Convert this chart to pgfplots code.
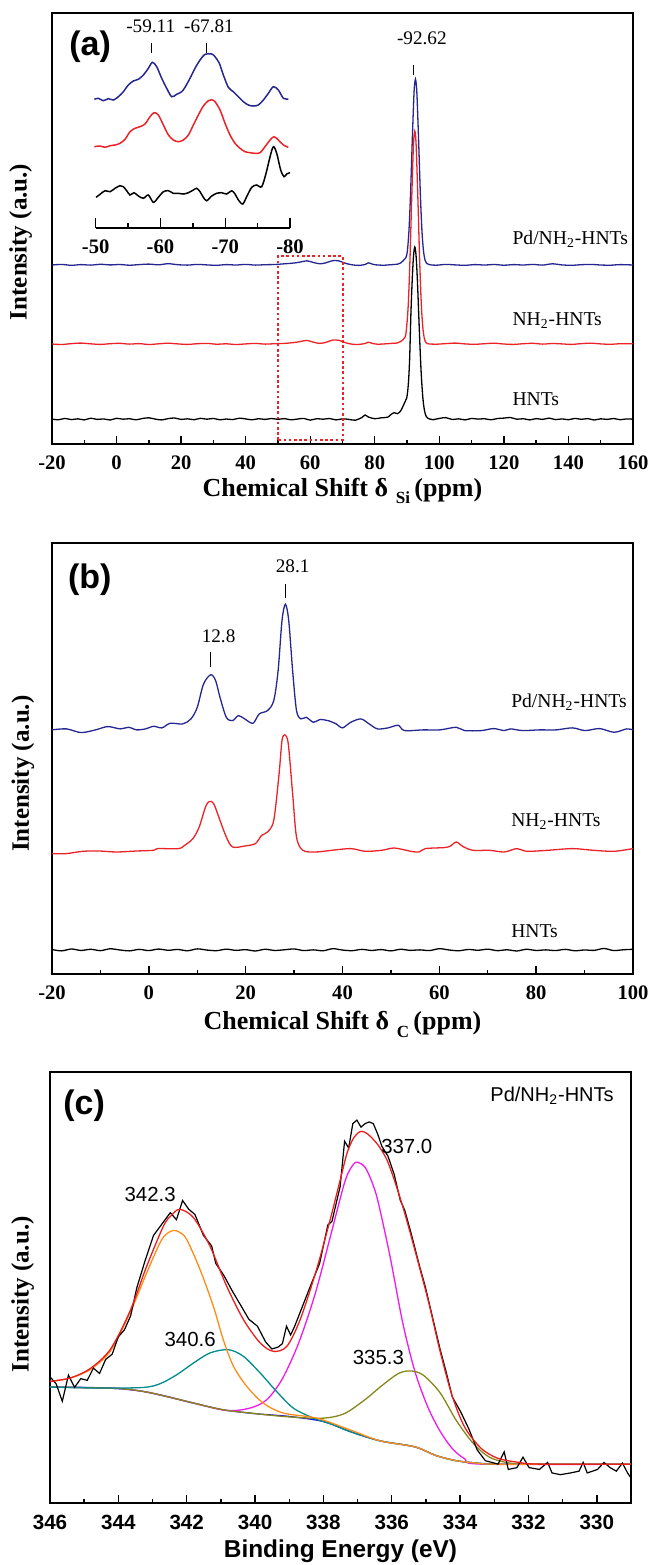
\documentclass[border=0pt]{standalone}
\usepackage{fontspec}
\setmainfont{Liberation Serif}
\newfontfamily\arial{Liberation Sans}
\usepackage{pgfplots}
\pgfplotsset{compat=1.18}

\definecolor{nblue}{RGB}{38,38,145}
\definecolor{nred}{RGB}{235,35,40}
\definecolor{fred}{RGB}{235,30,30}
\definecolor{forange}{RGB}{255,140,25}
\definecolor{fteal}{RGB}{0,140,140}
\definecolor{fmag}{RGB}{240,25,240}
\definecolor{folive}{RGB}{135,135,25}
\definecolor{fblue}{RGB}{20,20,230}

\pgfplotsset{
  panel/.style={
    scale only axis, width=290.5pt, height=215.5pt,
    anchor=south west, clip=false,
    axis line style={line width=0.9pt},
    tick style={black, line width=0.7pt},
    major tick length=4pt, minor tick length=1.8pt,
    tick align=inside, xtick pos=left, ytick=\empty,
    minor x tick num=1,
    xticklabel style={font=\bfseries\fontsize{10.3}{12}\selectfont, yshift=-2.6pt},
    every axis plot/.append style={line width=0.65pt, mark=none},
  },
  sm/.style={smooth, tension=0.5},
}
\tikzset{
  ylab/.style={rotate=90, font=\bfseries\fontsize{12.5}{14}\selectfont},
  xlab/.style={font=\bfseries\fontsize{13}{15}\selectfont},
  samp/.style={font=\fontsize{9.8}{11}\selectfont, anchor=base west},
  pk/.style={font=\fontsize{9.6}{11}\selectfont},
}

\begin{document}
\begin{tikzpicture}
\path[use as bounding box] (0,0) rectangle (325pt,-782.5pt);

% ---------------- (a) 29Si ----------------
\begin{axis}[panel, at={(26pt,-222pt)},
  xmin=-20, xmax=160, ymin=0, ymax=431,
  xtick={-20,0,...,160}, xticklabels={-20,0,20,40,60,80,100,120,140,160}]
\addplot[nblue, sm] coordinates {
(-20,179) (-17,179.6) (-14,178.7) (-11,179.4) (-8,178.9) (-5,179.7) (-2,179.1) (1,179.5) (4,178.8) (7,179.4)
(10,179.9) (13,179.2) (16,180.3) (19,179.3) (22,178.9) (25,179.6) (28,179.1) (31,178.7) (34,179.4) (37,179)
(40,179.6) (43,178.9) (46,179.3) (49,179.5) (52,180.2) (55,181) (57,182) (59,183.2) (61,181.5) (63,180.2)
(65,181.3) (67,183.4) (69,183) (71,180.6) (73,179.2) (75,178.6) (77,179.5) (78,181.2) (79.5,179.6) (81,179)
(83,178.8) (85,179.3) (87,179.8) (88,181) (89,184) (89.6,186) (90.1,193) (90.6,214) (91.1,252) (91.6,302)
(92.1,347) (92.35,360) (92.6,365) (92.85,360) (93.1,347) (93.6,302) (94.1,252) (94.6,214) (95.1,193) (95.6,183.5)
(96.1,180.5) (97,179.3) (99,178.8) (102,179.6) (105,179.1) (108,178.7) (111,179.4) (114,179) (117,179.5) (120,178.8)
(123,179.4) (126,179) (129,179.6) (132,178.9) (135,180.2) (138,179.1) (141,178.7) (144,179.3) (147,179.6) (150,179)
(153,178.8) (156,179.4) (160,179)};
\addplot[nred, sm] coordinates {
(-20,100) (-17,99.5) (-14,100.4) (-11,100.9) (-8,100.2) (-5,99.6) (-2,100.3) (1,100.7) (4,99.9) (7,100.4)
(10,99.5) (13,100.2) (16,100.8) (19,100.1) (22,99.6) (25,100.3) (28,100.6) (31,99.8) (34,100.2) (37,99.5)
(40,100.1) (43,100.6) (46,99.9) (49,100.3) (52,100.6) (55,101.5) (57,102.5) (59,103.6) (61,101.8) (63,100.6)
(65,101.8) (67,104) (69,103.6) (71,101.2) (73,99.8) (75,99.6) (77,100.5) (78,101.8) (79.5,100.4) (81,99.8)
(83,100.1) (85,100.6) (87,101) (88,102.5) (89.4,107) (89.9,118) (90.4,141) (90.9,184) (91.4,241) (91.9,292)
(92.15,307.7) (92.4,313) (92.65,307.7) (92.9,292) (93.4,241) (93.9,184) (94.4,141) (94.9,116) (95.4,105) (95.9,101.3)
(96.5,100.2) (99,99.8) (102,100.4) (105,100.9) (108,100.1) (111,99.7) (114,100.3) (117,100.8) (120,100) (123,99.6)
(126,100.3) (129,100.7) (132,99.9) (135,100.5) (138,100.1) (141,99.6) (144,100.4) (147,100.8) (150,100.1) (153,99.7)
(156,100.3) (160,100.2)};
\addplot[black, sm] coordinates {
(-20,25) (-18,24.2) (-16,25.6) (-14,24.4) (-12,25.2) (-10,24.1) (-8,25.8) (-6,24.6) (-4,25.1) (-2,24)
(0,25.7) (2,24.8) (4,25.3) (6,24.2) (8,25.5) (10,26.2) (12,24.9) (14,24.1) (16,25.4) (18,26)
(20,24.6) (22,25.2) (24,24.3) (26,25.7) (28,24.8) (30,25.6) (32,24.2) (34,25) (36,24.4) (38,25.8)
(40,25.1) (42,24.2) (44,25.3) (46,24.6) (48,25.5) (50,24.7) (52,25.4) (54,24.2) (56,24.9) (58,25.6)
(60,23.9) (62,25.3) (64,24.8) (66,25.5) (68,24.1) (70,25.2) (72,24.6) (74,23.8) (76,26.5) (77,29)
(78,27) (80,25.3) (82,26.2) (84,26.8) (85,29.5) (86,31.3) (87,30.4) (88,33) (89.2,41) (89.9,46)
(90.4,60) (90.8,85) (91.2,131) (91.6,164) (92.0,188) (92.4,197) (92.8,188) (93.2,164) (93.6,131) (94.0,98)
(94.4,70) (94.9,46) (95.4,33.4) (95.9,27.8) (96.4,25.9) (97,25) (98,24.3) (100,25.6) (102,26.4) (104,24.5)
(106,25.2) (108,24.1) (110,25.6) (112,24.9) (114,25.3) (116,24.2) (118,25.5) (120,25.9) (122,26.5) (124,24.8)
(126,25.3) (128,24.1) (130,25.4) (132,24.6) (134,25.9) (136,24.4) (138,25.1) (140,24.3) (142,25.6) (144,24.7)
(146,25.4) (148,24) (150,25.2) (152,24.6) (154,25.5) (156,24.3) (158,25.1) (160,24.8)};
\draw[nred, line width=1pt, dash pattern=on 1.3pt off 1.3pt] (axis cs:50,4) rectangle (axis cs:70,188);
\draw[line width=0.6pt] (axis cs:92.05,369) -- (axis cs:92.05,379);
\node[pk] at (axis cs:94.6,406) {-92.62};
\node[samp] at (axis cs:120.5,199.7) {Pd/NH\textsubscript{2}-HNTs};
\node[samp] at (axis cs:120.5,118.5) {NH\textsubscript{2}-HNTs};
\node[samp] at (axis cs:120.5,38.5) {HNTs};
\node[font=\arial\bfseries\fontsize{17}{20}\selectfont] at (axis cs:-8.2,397) {(a)};
\node[ylab] at (rel axis cs:-0.054,0.469) {Intensity (a.u.)};
\node[xlab] at (rel axis cs:0.5,-0.108) {Chemical Shift δ\hspace{0.3em}\raisebox{-0.6ex}{\fontsize{8.5}{9}\selectfont Si}\,(ppm)};
\end{axis}

% inset of (a)
\begin{axis}[at={(47.85pt,-114pt)}, anchor=south west, scale only axis,
  width=97.15pt, height=100pt, xmin=50, xmax=80, ymin=0, ymax=200,
  clip=false, axis x line=bottom, axis y line=none,
  axis line style={-, line width=0.8pt},
  tick style={black, line width=0.7pt}, tick align=inside,
  major tick length=5pt, minor tick length=2.5pt,
  xtick={50,60,70,80}, xticklabels={-50,-60,-70,-80}, minor xtick={55,65,75},
  xticklabel style={font=\bfseries\fontsize{10.3}{12}\selectfont, yshift=-2.6pt},
  every axis plot/.append style={line width=0.75pt, mark=none, smooth, tension=0.5}]
\addplot[nblue] coordinates {
(49.79,128.7) (50.41,129.7) (51.18,127.3) (51.95,129.3) (52.73,128) (53.50,131.3) (54.27,136.3) (55.04,143)
(55.81,147) (56.59,148.7) (57.36,153) (58.13,159.7) (58.75,165.7) (59.42,161.3) (60.19,149.7) (60.96,139.7)
(61.73,131.3) (62.50,133.7) (63.28,136.3) (63.79,140.7) (64.56,149.7) (65.33,159.7) (66.11,168) (66.88,173.7)
(67.91,174) (68.42,171.3) (69.09,164.7) (69.71,153) (70.48,140.7) (71.25,136.3) (72.03,131.3) (72.80,126.3)
(73.57,123) (74.34,122) (75.11,123) (75.89,128) (76.66,134.7) (77.43,141.3) (78.20,138) (78.98,129.7) (79.75,129)};
\addplot[nred] coordinates {
(49.79,81.3) (50.67,82) (51.44,80.7) (52.21,82.3) (52.98,83) (53.75,84.7) (54.53,88.7) (55.30,96.3)
(56.07,99.7) (56.84,101.3) (57.61,104) (58.39,111.3) (59.00,115.3) (59.67,113) (60.45,103) (61.22,93)
(61.99,88) (62.76,86.3) (63.53,88) (64.31,93) (65.08,103) (65.85,113) (66.62,122) (67.39,127.3)
(67.91,128.3) (68.42,126.3) (69.20,118) (69.97,104.7) (70.74,93) (71.51,84.7) (72.28,79.7) (73.06,76.3)
(73.83,75.3) (74.60,74.7) (75.37,75.3) (76.14,81.3) (76.92,88) (77.53,91.3) (78.20,88) (78.98,83) (79.75,80.7)};
\addplot[black] coordinates {
(50.05,30.7) (50.67,33.7) (51.44,37.3) (52.21,36.3) (52.98,39.7) (53.75,42.3) (54.27,41.3) (54.78,37.3)
(55.30,33) (55.92,35.3) (56.59,32) (57.36,29.7) (58.13,33) (58.90,25.7) (59.67,30.7) (60.45,36.3)
(61.22,37.3) (61.99,34.7) (62.76,34.7) (63.53,34) (64.31,35.3) (65.08,38) (65.59,39.7) (66.11,36.3)
(66.62,30.7) (67.14,27.3) (67.91,32) (68.68,34.7) (69.45,35.3) (70.23,34) (71.00,37.3) (71.51,34)
(72.03,28) (72.70,24) (73.31,31.3) (74.09,40.7) (74.86,43) (75.63,41.3) (76.30,54.7) (76.92,71.3)
(77.43,81.3) (77.95,74.7) (78.56,58) (79.08,51.3) (79.49,54) (80.00,55.3)};
\draw[line width=0.6pt] (axis cs:58.64,175) -- (axis cs:58.64,185);
\draw[line width=0.6pt] (axis cs:67.14,175) -- (axis cs:67.14,185);
\node[pk] at (axis cs:58.5,201.3) {-59.11};
\node[pk] at (axis cs:67.5,201.3) {-67.81};
\end{axis}

% ---------------- (b) 13C ----------------
\begin{axis}[panel, at={(26pt,-487pt)},
  xmin=-20, xmax=100, ymin=0, ymax=432,
  xtick={-20,0,...,100}, xticklabels={-20,0,20,40,60,80,100}]
\addplot[nblue, sm] coordinates {
(-20,244.7) (-17.0,245.7) (-14.0,242) (-11.0,244.7) (-8.5,248) (-5.9,245.7) (-4.2,247.3) (-2.5,244.7) (-0.7,245.7) (1.0,248.3)
(2.7,246.7) (4.4,251.3) (7.0,250.7) (8.7,255.7) (10.0,267.3) (11.3,290.7) (12.8,300) (13.8,294) (14.7,277.3) (16.0,257.3)
(17.3,254) (18.5,259) (19.8,255.7) (21.5,251.3) (22.8,260.7) (24.5,264) (25.8,274) (26.7,304) (27.5,354) (28.2,370.7)
(28.9,354) (29.7,304) (30.5,264) (31.4,255.7) (32.5,257.3) (34.0,252.3) (35.3,255) (37.0,254) (38.7,250.7) (40.0,246.7)
(41.7,252.3) (43.8,255.7) (45.5,250.7) (47.2,245.7) (49.4,246.7) (51.5,249.3) (52.8,244) (56.7,244.7) (60.1,244.7) (63.5,247.3)
(65.2,244) (68.7,244) (71.2,246) (73.4,244) (74.7,245.7) (77.2,244) (80.7,244.7) (84.1,244.7) (87.5,246.7) (90.1,244)
(93.1,246) (96.1,242.3) (98.7,245.7) (100,244.7)};
\addplot[nred, sm] coordinates {
(-20,120.7) (-17.0,120.7) (-13.6,123) (-10.2,123.3) (-6.7,122.3) (-2.5,123.3) (1.0,124) (1.8,125.7) (6.1,125.7) (7.4,129)
(9.1,135.7) (10.4,147.3) (11.7,167.3) (12.5,173) (13.4,170.7) (14.7,154) (16.0,137.3) (17.3,127.3) (19.8,128.3) (22.0,130.7)
(23.3,139) (24.5,142.3) (25.8,154) (26.9,200.7) (27.5,234) (28.1,239.7) (28.8,230.7) (29.7,180.7) (30.5,137.3) (31.8,124)
(34.4,122.3) (37.8,124) (41.7,125.7) (44.7,123) (48.1,124) (50.7,126.3) (54.1,123) (55.8,122.3) (57.1,125.7) (60.9,126.7)
(62.2,128) (63.5,132.3) (64.8,128) (66.9,124) (70.4,124) (73.4,122.3) (76.0,125.7) (78.1,123) (82.4,124) (87.5,125.7)
(91.8,124) (96.1,123) (100,125.7)};
\addplot[black, sm] coordinates {
(-20,24.5) (-18,23.2) (-16,25.1) (-14,23.6) (-12,24.8) (-10,23.4) (-8,25.3) (-6,24.1) (-4,23.2) (-2,24.7)
(0,23.5) (2,25) (4,23.8) (6,24.6) (8,23.3) (10,25.2) (12,24) (14,23.4) (16,24.9) (18,23.7)
(20,24.4) (22,23.1) (24,24.8) (26,23.6) (28,24.3) (30,25.1) (32,23.5) (34,24.2) (36,23.3) (38,25.4)
(40,24) (42,23.4) (44,24.7) (46,23.6) (48,24.5) (50,23.2) (52,24.8) (54,23.7) (56,24.2) (58,23.5)
(60,25.4) (62,24.1) (64,23.3) (66,24.6) (68,23.8) (70,24.9) (72,23.4) (74,24.3) (76,23.1) (78,24.8)
(80,23.6) (82,24.2) (84,23.5) (86,24.7) (88,23.3) (90,24.1) (92,23.7) (94,25.6) (96,23.5) (98,24.3) (100,24.8)};
\draw[line width=0.6pt] (axis cs:28.2,377.3) -- (axis cs:28.2,390.7);
\draw[line width=0.6pt] (axis cs:12.8,307.3) -- (axis cs:12.8,322.3);
\node[pk] at (axis cs:29.7,409) {28.1};
\node[pk] at (axis cs:14.4,339) {12.8};
\node[samp] at (axis cs:73.4,267.5) {Pd/NH\textsubscript{2}-HNTs};
\node[samp] at (axis cs:73.4,147.5) {NH\textsubscript{2}-HNTs};
\node[samp] at (axis cs:73.4,37) {HNTs};
\node[font=\arial\bfseries\fontsize{17}{20}\selectfont] at (axis cs:-12.2,395.7) {(b)};
\node[ylab] at (rel axis cs:-0.050,0.465) {Intensity (a.u.)};
\node[xlab] at (rel axis cs:0.5,-0.117) {Chemical Shift δ\hspace{0.3em}\raisebox{-0.6ex}{\fontsize{8.5}{9}\selectfont C}\,(ppm)};
\end{axis}

% ---------------- (c) XPS Pd 3d ----------------
\begin{axis}[panel, at={(25pt,-751.5pt)},
  x dir=reverse, xmin=329, xmax=346, ymin=0, ymax=430,
  xtick={330,332,...,346},
  xticklabel style={font=\arial\bfseries\fontsize{10.3}{12}\selectfont},
  xticklabels={330,332,334,336,338,340,342,344,346}]
\addplot[fblue, sm] coordinates {
(346,115.7) (345,115.3) (344.05,114.3) (343.27,111.3) (342.59,106.3) (341.8,99.7) (340.93,93) (339.95,89)
(338.98,86.3) (338.0,81.3) (337.22,71.3) (336.34,62) (335.32,56) (334.71,47.4) (334.11,42.2) (333.5,39.8)
(332.9,38.8) (332,38.7) (329,38.7)};
\addplot[fmag, sm] coordinates {
(346,115.7) (344.05,114.3) (343.27,111.3) (342.59,106.3) (341.8,99.7) (340.83,92.3) (340.15,94.7) (339.66,103)
(339.2,124) (338.72,160) (338.23,210) (337.75,272) (337.41,316.3) (337.25,331) (337.07,339.7) (336.93,339)
(336.78,335) (336.6,322) (336.41,302) (336.05,246) (335.68,180) (335.32,131) (334.95,96.2) (334.59,71.9)
(334.23,54.4) (333.86,44) (333.38,38.8) (329,38.7)};
\addplot[folive, sm] coordinates {
(346,115.7) (344.05,114.3) (343.27,111.3) (342.59,106.3) (341.8,99.7) (340.93,93) (339.95,89) (338.96,85.8)
(337.99,84.7) (337.38,89.3) (336.78,103.2) (336.29,117.1) (335.8,129.3) (335.44,131.8) (335.08,127.6) (334.59,110.2)
(334.11,82.3) (333.62,59.7) (333.14,45.7) (332.53,39.8) (331.8,38.7) (329,38.7)};
\addplot[fteal, sm] coordinates {
(346,115.7) (344.54,114.7) (343.27,115.3) (342.78,119) (342.29,128) (341.8,139.7) (341.32,149.7) (340.78,153)
(340.34,146.3) (339.85,129.7) (339.37,111.3) (338.88,94.7) (338.29,84.7) (337.71,78) (337.22,71.3) (336.34,62)
(335.32,56) (334.71,47.4) (334.11,42.2) (333.5,39.8) (332.9,38.8) (329,38.7)};
\addplot[forange, sm] coordinates {
(346,121.3) (345.41,124.7) (344.83,133) (344.24,151.3) (343.66,189.7) (343.17,229.7) (342.78,259.7) (342.59,268.5)
(342.39,272) (342.2,270) (342.0,263) (341.61,233) (341.22,196.3) (340.93,163) (340.63,136.3) (340.24,116.3)
(339.76,99.7) (339.17,89.7) (338.2,84.7) (337.22,73) (336.34,62) (335.32,56) (334.71,47.4) (334.11,42.2)
(333.5,39.8) (332.9,38.8) (329,38.7)};
\addplot[black, line width=0.6pt] coordinates {
(346.0,125.9) (345.82,118.9) (345.64,101.5) (345.46,127.6) (345.28,115.4) (345.10,124.1) (344.91,122.4) (344.73,134.6)
(344.55,129.3) (344.37,143.3) (344.18,148.5) (344.00,165.9) (343.82,172.9) (343.64,186.8) (343.46,214.7) (343.21,242.6)
(342.97,267) (342.67,280.9) (342.48,289.6) (342.30,282.7) (342.12,301.8) (341.94,293.1) (341.76,287.9) (341.51,267)
(341.27,256.5) (341.15,239.1) (340.91,226.9) (340.66,211.2) (340.42,197.3) (340.18,183.3) (339.93,176.4) (339.69,160.7)
(339.51,153.7) (339.33,155.5) (339.20,159) (339.08,176.4) (338.96,167.7) (338.84,176.4) (338.60,197.3) (338.36,218.2)
(338.11,239.1) (337.87,277.4) (337.75,280.9) (337.51,315.8) (337.38,361) (337.26,354.1) (337.14,378.5) (337.02,382)
(336.90,375) (336.78,378.5) (336.66,380.2) (336.54,378.5) (336.41,368) (336.29,356) (336.11,346) (335.93,328)
(335.75,302) (335.62,292) (335.44,270) (335.20,238) (335.02,216) (334.84,190) (334.59,154) (334.41,131)
(334.23,106) (333.98,90.8) (333.74,73.6) (333.50,53) (333.26,42.2) (333.07,40.5) (332.89,38.8) (332.71,51)
(332.59,33.5) (332.34,35.3) (332.16,45.7) (331.98,35.3) (331.68,33.5) (331.44,40.5) (331.31,30) (331.07,28.3)
(330.77,30) (330.52,31.8) (330.40,40.5) (330.28,30) (329.98,33.5) (329.79,40.5) (329.61,35.3) (329.43,31.8)
(329.25,39.8) (329.10,30) (329.0,25)};
\addplot[fred, sm] coordinates {
(346,121.3) (345.41,124.7) (344.83,134) (344.24,153) (343.66,191.3) (343.17,236.3) (342.68,276.3) (342.45,287)
(342.2,293) (341.8,284.7) (341.32,256.3) (340.83,216.3) (340.34,183) (339.85,159.7) (339.46,151.3) (339.07,156.3)
(338.68,183) (338.2,233) (337.8,283) (337.51,322) (337.3,350) (337.1,365) (336.9,370.8) (336.7,368)
(336.41,357.6) (336.15,343) (335.93,322.7) (335.68,296) (335.44,267) (334.95,204.3) (334.59,152) (334.23,106.7)
(333.86,75.3) (333.38,54.4) (332.9,44.7) (332.28,40.5) (331.68,38.8) (329,38.7)};
\node[font=\arial\fontsize{10.2}{12}\selectfont] at (axis cs:343.07,308) {342.3};
\node[font=\arial\fontsize{10.2}{12}\selectfont] at (axis cs:341.9,163) {340.6};
\node[font=\arial\fontsize{10.2}{12}\selectfont] at (axis cs:335.56,355.8) {337.0};
\node[font=\arial\fontsize{10.2}{12}\selectfont] at (axis cs:336.39,145) {335.3};
\node[font=\arial\fontsize{10}{12}\selectfont] at (axis cs:331.31,406) {Pd/NH\textsubscript{2}-HNTs};
\node[font=\arial\bfseries\fontsize{17}{20}\selectfont] at (axis cs:345.0,396) {(c)};
\node[ylab] at (rel axis cs:-0.047,0.484) {Intensity (a.u.)};
\node[font=\arial\bfseries\fontsize{12.2}{14}\selectfont] at (rel axis cs:0.5,-0.112) {Binding Energy (eV)};
\end{axis}
\end{tikzpicture}
\end{document}
